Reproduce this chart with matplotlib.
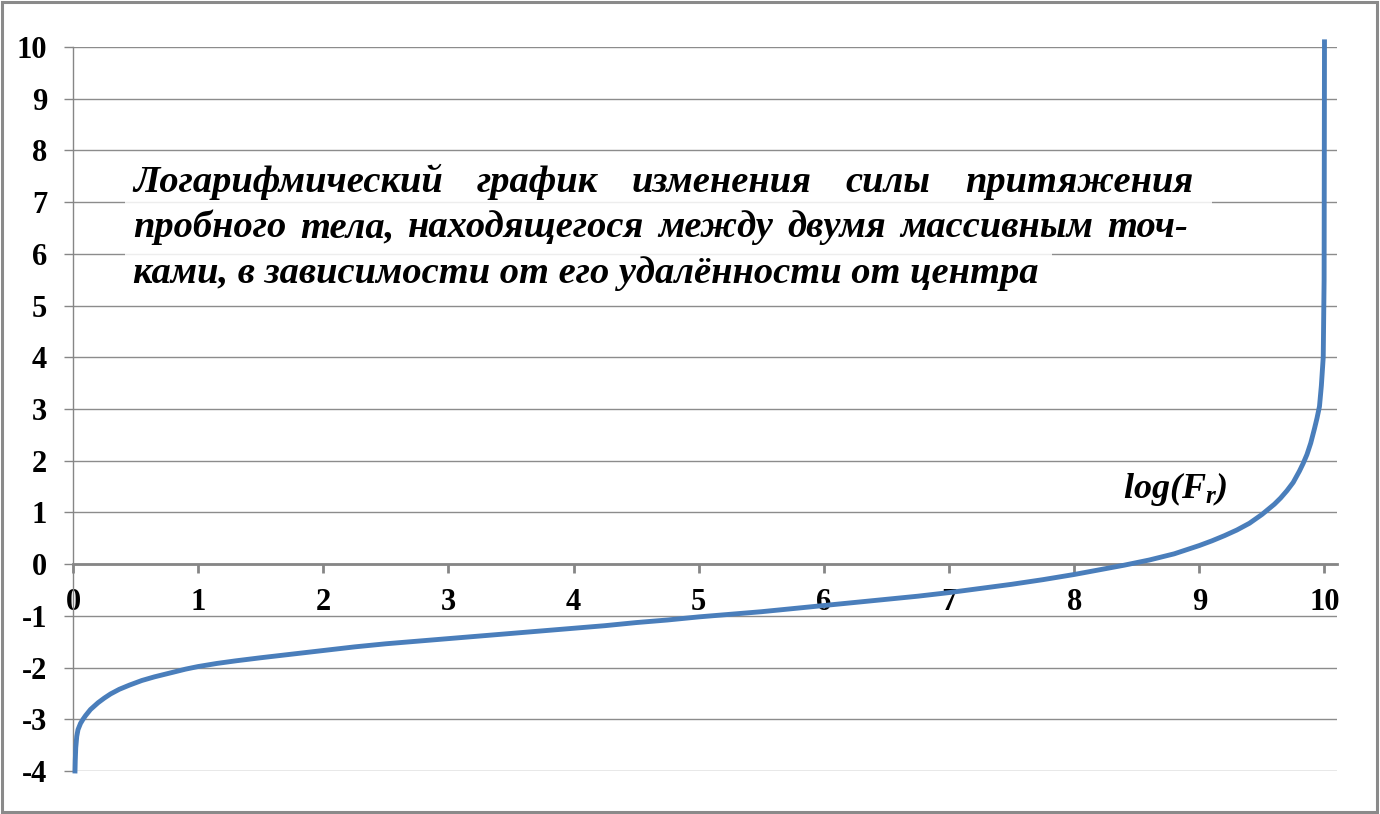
import matplotlib
matplotlib.use("Agg")
import matplotlib.pyplot as plt
from matplotlib.patches import Rectangle

# values
r_vals = [0.016, 0.018, 0.022, 0.03, 0.04, 0.06, 0.08, 0.1, 0.14, 0.2, 0.25, 0.3,
          0.37, 0.45, 0.55, 0.65, 0.8, 0.9, 1.0, 1.15, 1.3, 1.5, 1.75, 2.0,
          2.25, 2.5, 2.75, 3.0, 3.25, 3.5, 3.75, 4.0, 4.25, 4.5, 4.75, 5.0,
          5.25, 5.5, 5.75, 6.0, 6.25, 6.5, 6.75, 7.0, 7.25, 7.5, 7.75, 8.0,
          8.2, 8.4, 8.6, 8.8, 9.0, 9.1, 9.2, 9.3, 9.4, 9.5, 9.55, 9.6,
          9.65, 9.7, 9.75, 9.8, 9.83, 9.86, 9.89, 9.92, 9.94, 9.96, 9.975, 9.99,
          9.997, 10.0]
log_f = [-4.0, -3.8, -3.55, -3.33, -3.2, -3.08, -3.0, -2.93, -2.81, -2.68, -2.59, -2.51,
         -2.42, -2.34, -2.25, -2.18, -2.09, -2.03, -1.98, -1.92, -1.87, -1.81, -1.74, -1.67,
         -1.6, -1.54, -1.49, -1.44, -1.39, -1.34, -1.29, -1.24, -1.19, -1.13, -1.08, -1.02,
         -0.97, -0.92, -0.86, -0.8, -0.74, -0.68, -0.62, -0.55, -0.47, -0.39, -0.3, -0.2,
         -0.11, -0.02, 0.08, 0.2, 0.36, 0.45, 0.55, 0.66, 0.79, 0.96, 1.06, 1.16,
         1.28, 1.42, 1.58, 1.8, 1.95, 2.12, 2.34, 2.62, 2.82, 3.05, 3.45, 4.0,
         5.5, 10.1]

x_ticks = list(range(0, 11))
y_ticks = list(range(-4, 11))

title_lines = [
    "Логарифмический график изменения силы притяжения",
    "пробного тела, находящегося между двумя массивным точ-",
    "ками, в зависимости от его удалённости от центра",
]
curve_label = r"$log(F_r)$"

W, H = 1380, 814
plt.rcParams["font.family"] = ["Liberation Serif", "DejaVu Serif"]
plt.rcParams["axes.unicode_minus"] = False
plt.rcParams["mathtext.fontset"] = "custom"
plt.rcParams["mathtext.it"] = "Liberation Serif:bold:italic"
plt.rcParams["mathtext.rm"] = "Liberation Serif:bold:italic"

fig = plt.figure(figsize=(W / 100, H / 100), dpi=100)
ax = fig.add_axes([73 / W, (H - 771) / H, (1337 - 73) / W, (771 - 47) / H])

grid_c = "#8c8c8c"
ax.plot(r_vals, log_f, color="#4a7ebb", lw=3.5, solid_joinstyle="round",
        zorder=3, clip_on=False)

ax.set_xlim(0, 10.1)
ax.set_ylim(-4, 10)
ax.set_xticks(x_ticks)
ax.set_yticks(y_ticks)
ax.grid(axis="y", color=grid_c, lw=1.0)
ax.set_axisbelow(True)

for s in ["top", "right"]:
    ax.spines[s].set_visible(False)
ax.spines["bottom"].set_position(("data", 0))
ax.spines["bottom"].set_color("#868686")
ax.spines["bottom"].set_linewidth(2.0)
ax.spines["left"].set_color("#868686")
ax.spines["left"].set_linewidth(1.0)

ax.tick_params(axis="x", direction="out", length=6.5, width=2.0, color="#868686", pad=11)
ax.tick_params(axis="y", direction="out", length=6.5, width=1.0, color="#868686", pad=12)
for lab in ax.get_xticklabels() + ax.get_yticklabels():
    lab.set_fontsize(22)
    lab.set_fontweight("bold")

# semi-transparent white bands behind the caption lines
def px_rect(x0, y0, x1, y1):
    return Rectangle((x0 / W, 1 - y1 / H), (x1 - x0) / W, (y1 - y0) / H,
                     transform=fig.transFigure, facecolor="white", edgecolor="none",
                     alpha=0.85, zorder=2)

fig.patches.append(px_rect(125, 166, 1212, 213))
fig.patches.append(px_rect(125, 213, 1052, 259))

txt_kw = dict(fontsize=27.7, fontweight="bold", fontstyle="italic", va="baseline", zorder=5)
baselines = [192, 237, 283]
left_px = 133
right_px = [1193, 1188, None]

renderer = fig.canvas.get_renderer()
for line, base, right in zip(title_lines, baselines, right_px):
    yf = 1 - base / H
    if right is None:
        fig.text(left_px / W, yf, line, **txt_kw)
        continue
    words = line.split()
    objs = [fig.text(0, yf, w, **txt_kw) for w in words]
    widths = [o.get_window_extent(renderer).width for o in objs]
    gap = (right - left_px - sum(widths)) / (len(words) - 1)
    x = left_px
    for o, wd in zip(objs, widths):
        o.set_x(x / W)
        x += wd + gap

fig.text(1123 / W, 1 - 498 / H, curve_label, fontsize=26, va="baseline", zorder=5)

fig.patches.append(Rectangle((1.5 / W, 2.5 / H), (1377 - 1.5) / W, (H - 4) / H,
                             transform=fig.transFigure, fill=False,
                             edgecolor="#8a8a8a", lw=2.2, zorder=10))

fig.savefig("out.png", dpi=100)
